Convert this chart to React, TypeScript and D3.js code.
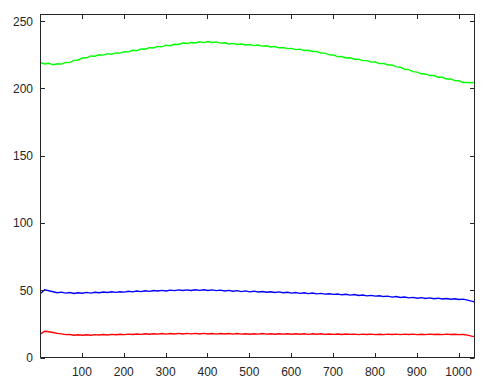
import React, { useEffect, useRef } from "react";
import * as d3 from "d3";

// samples every 10 points, starting at index 1
const sampleStart = 1;
const sampleStep = 10;

const greenValues = [
  219.3, 218.2, 218.7, 217.6, 218.4, 218.1, 219.4, 219.2, 220.9, 221.2,
  222.7, 222.8, 224.2, 224.0, 225.1, 224.8, 225.9, 225.5, 226.5, 226.3,
  227.4, 227.2, 228.4, 228.1, 229.4, 229.2, 230.4, 230.1, 231.3, 231.0,
  232.2, 231.8, 232.9, 232.7, 233.8, 233.4, 234.2, 233.8, 234.7, 234.1,
  234.9, 234.2, 234.6, 233.7, 234.0, 233.1, 233.5, 232.7, 233.1, 232.3,
  232.7, 231.9, 232.3, 231.5, 231.8, 230.9, 231.2, 230.2, 230.5, 229.6,
  229.8, 228.9, 229.2, 228.2, 228.4, 227.5, 227.5, 226.3, 226.3, 225.0,
  224.9, 223.7, 223.8, 222.7, 222.8, 221.7, 221.8, 220.7, 220.7, 219.6,
  219.7, 218.5, 218.6, 217.5, 217.5, 216.1, 215.8, 214.3, 214.0, 212.5,
  212.2, 210.9, 210.8, 209.6, 209.6, 208.4, 208.3, 207.1, 207.1, 205.8,
  205.7, 204.4, 204.5, 204.3, 204.7,
];

const blueValues = [
  47.6, 50.4, 49.6, 48.9, 48.2, 48.6, 47.9, 48.3, 47.6, 48.1,
  47.8, 48.4, 47.9, 48.5, 48.1, 48.7, 48.3, 48.9, 48.4, 48.9,
  48.6, 49.2, 48.8, 49.4, 49.0, 49.6, 49.2, 49.8, 49.4, 49.9,
  49.5, 50.1, 49.7, 50.3, 49.8, 50.3, 49.8, 50.4, 49.9, 50.4,
  49.8, 50.3, 49.7, 50.1, 49.5, 49.9, 49.3, 49.7, 49.0, 49.5,
  48.8, 49.3, 48.7, 49.1, 48.5, 48.9, 48.3, 48.8, 48.1, 48.5,
  47.9, 48.3, 47.7, 48.1, 47.5, 47.9, 47.3, 47.7, 47.1, 47.4,
  46.9, 47.2, 46.6, 47.0, 46.4, 46.8, 46.1, 46.5, 45.8, 46.2,
  45.6, 45.9, 45.3, 45.6, 44.9, 45.3, 44.6, 45.0, 44.3, 44.7,
  44.1, 44.5, 43.9, 44.3, 43.7, 44.1, 43.5, 43.9, 43.3, 43.7,
  43.1, 43.4, 42.7, 41.9, 41.2,
];

const redValues = [
  17.5, 19.5, 19.1, 18.6, 17.9, 17.6, 17.0, 17.1, 16.6, 16.9,
  16.5, 16.9, 16.6, 17.0, 16.7, 17.1, 16.7, 17.2, 16.9, 17.3,
  17.0, 17.4, 17.1, 17.5, 17.2, 17.6, 17.3, 17.7, 17.4, 17.8,
  17.4, 17.8, 17.5, 17.9, 17.5, 17.9, 17.6, 17.9, 17.5, 17.9,
  17.5, 17.8, 17.4, 17.8, 17.5, 17.8, 17.4, 17.8, 17.4, 17.7,
  17.3, 17.7, 17.4, 17.8, 17.4, 17.7, 17.3, 17.7, 17.4, 17.7,
  17.3, 17.6, 17.3, 17.7, 17.2, 17.6, 17.3, 17.6, 17.2, 17.5,
  17.2, 17.5, 17.1, 17.5, 17.2, 17.4, 17.0, 17.4, 17.1, 17.4,
  17.0, 17.3, 17.0, 17.4, 17.1, 17.4, 17.0, 17.4, 17.1, 17.4,
  17.0, 17.3, 17.0, 17.4, 17.1, 17.3, 17.0, 17.4, 17.1, 17.3,
  17.0, 17.1, 16.6, 15.9, 15.4,
];

const xTicks = [100, 200, 300, 400, 500, 600, 700, 800, 900, 1000];
const yTicks = [0, 50, 100, 150, 200, 250];

const series = [
  { values: greenValues, color: "#00ff00" },
  { values: blueValues, color: "#0000ff" },
  { values: redValues, color: "#ff0000" },
];

export default function App() {
  const ref = useRef<SVGSVGElement>(null);

  useEffect(() => {
    const svg = d3.select(ref.current);
    svg.selectAll("*").remove();

    const left = 40.5, right = 474.5, top = 14.5, bottom = 357.5;
    const tickLen = 4.5;
    const axisColor = "#262626";

    const xScale = d3.scaleLinear().domain([1, 1038]).range([left, right]);
    const yScale = d3.scaleLinear().domain([0, 255]).range([bottom, top]);

    svg.append("defs")
      .append("clipPath")
      .attr("id", "plot-clip")
      .append("rect")
      .attr("x", left)
      .attr("y", top)
      .attr("width", right - left)
      .attr("height", bottom - top);

    // lines
    const line = d3.line<number>()
      .x((d, i) => xScale(sampleStart + i * sampleStep))
      .y(d => yScale(d));

    svg.append("g")
      .attr("clip-path", "url(#plot-clip)")
      .selectAll("path")
      .data(series)
      .enter()
      .append("path")
      .attr("d", d => line(d.values))
      .attr("fill", "none")
      .attr("stroke", d => d.color)
      .attr("stroke-width", 1.4);

    // ticks (inside, on all four sides)
    const ticks = svg.append("g").attr("stroke", axisColor).attr("stroke-width", 1);
    xTicks.forEach(t => {
      const x = Math.round(xScale(t)) + 0.5;
      ticks.append("line").attr("x1", x).attr("x2", x).attr("y1", bottom).attr("y2", bottom - tickLen);
      ticks.append("line").attr("x1", x).attr("x2", x).attr("y1", top).attr("y2", top + tickLen);
    });
    yTicks.forEach(t => {
      const y = Math.round(yScale(t)) + 0.5;
      ticks.append("line").attr("x1", left).attr("x2", left + tickLen).attr("y1", y).attr("y2", y);
      ticks.append("line").attr("x1", right).attr("x2", right - tickLen).attr("y1", y).attr("y2", y);
    });

    // box
    svg.append("rect")
      .attr("x", left)
      .attr("y", top)
      .attr("width", right - left)
      .attr("height", bottom - top)
      .attr("fill", "none")
      .attr("stroke", axisColor)
      .attr("stroke-width", 1);

    // tick labels
    svg.append("g")
      .selectAll("text")
      .data(xTicks)
      .enter()
      .append("text")
      .attr("x", d => xScale(d))
      .attr("y", 376)
      .attr("text-anchor", "middle")
      .attr("font-family", "Liberation Sans, Arial, sans-serif")
      .attr("font-size", 12)
      .attr("fill", "#262626")
      .text(d => d);

    svg.append("g")
      .selectAll("text")
      .data(yTicks)
      .enter()
      .append("text")
      .attr("x", 33)
      .attr("y", d => yScale(d) + 4.5)
      .attr("text-anchor", "end")
      .attr("font-family", "Liberation Sans, Arial, sans-serif")
      .attr("font-size", 12)
      .attr("fill", "#262626")
      .text(d => d);
  }, []);

  return (
    <svg
      ref={ref}
      width={489}
      height={391}
      style={{ position: "fixed", left: 0, top: 0, background: "#fff" }}
    />
  );
}
